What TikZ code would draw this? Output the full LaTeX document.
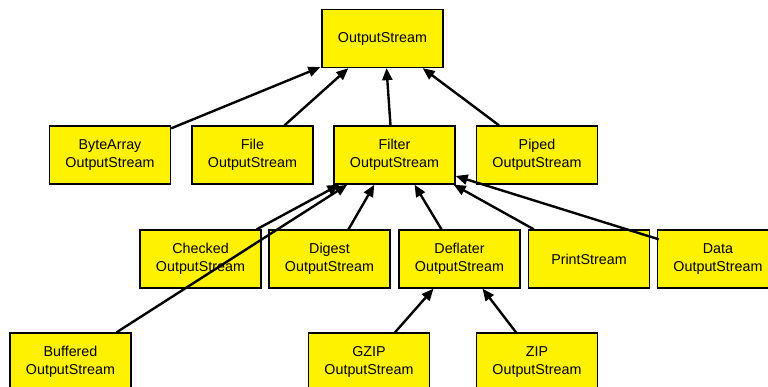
\documentclass[tikz,border=0pt]{standalone}
\usepackage{fontspec}
\setmainfont{Liberation Sans}
\usetikzlibrary{arrows.meta,calc}
\begin{document}
\begin{tikzpicture}[x=1pt,y=-1pt,
  cls/.style={draw=black, line width=1.3pt, fill=yellow, minimum width=121pt, minimum height=58pt,
    align=center, inner sep=0pt, font=\fontsize{14.3}{18}\selectfont},
  inh/.style={line width=2.4pt, -{Triangle[length=12pt,width=10pt]}}]
\useasboundingbox (0,0) rectangle (768,387);
\node[cls] (OS) at (382.5,38.5) {OutputStream};
\node[cls] (BA) at (110,155) {ByteArray\\OutputStream};
\node[cls] (FI) at (252.5,155) {File\\OutputStream};
\node[cls] (FL) at (394.5,155) {Filter\\OutputStream};
\node[cls] (PI) at (537,155) {Piped\\OutputStream};
\node[cls] (CH) at (200.5,259) {Checked\\OutputStream};
\node[cls] (DG) at (329.5,259) {Digest\\OutputStream};
\node[cls] (DF) at (459.5,259) {Deflater\\OutputStream};
\node[cls] (PS) at (589,259) {PrintStream};
\node[cls] (DA) at (718,259) {Data\\OutputStream};
\node[cls] (BU) at (70.5,362) {Buffered\\OutputStream};
\node[cls] (GZ) at (369,362) {GZIP\\OutputStream};
\node[cls] (ZI) at (537,362) {ZIP\\OutputStream};
\draw[inh] ($(BA.north east)+(0,3)$) -- ($(OS.south west)+(-1,-1)$);
\draw[inh] ($(FI.north)+(32,0)$) -- ($(OS.south west)+(27,0)$);
\draw[inh] ($(FL.north)+(-4,0)$) -- ($(OS.south)+(4,0)$);
\draw[inh] ($(PI.north)+(-38,0)$) -- ($(OS.south east)+(-21,0)$);
\draw[inh] ($(CH.north east)+(-5,0)$) -- ($(FL.south west)+(6,0)$);
\draw[inh] ($(BU.north)+(46,0)$) -- ($(FL.south west)+(14,0)$);
\draw[inh] ($(DG.north)+(19,0)$) -- ($(FL.south west)+(41,0)$);
\draw[inh] ($(DF.north)+(-18,0)$) -- ($(FL.south)+(20,0)$);
\draw[inh] ($(PS.north west)+(6,0)$) -- ($(FL.south east)+(-2,0)$);
\draw[inh] ($(DA.north west)+(2,10)$) -- ($(FL.east)+(0,21)$);
\draw[inh] ($(GZ.north)+(26,0)$) -- ($(DF.south)+(-26,0)$);
\draw[inh] ($(ZI.north)+(-21,0)$) -- ($(DF.south)+(23,0)$);
\end{tikzpicture}
\end{document}
